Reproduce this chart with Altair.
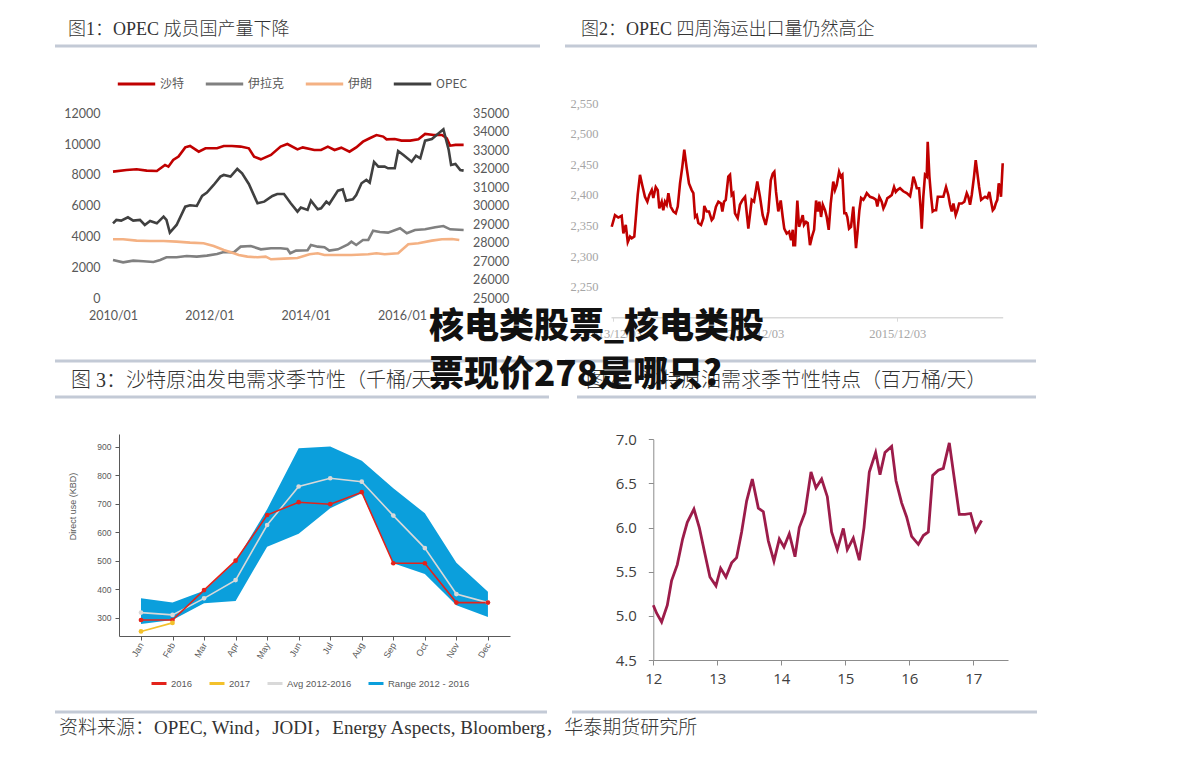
import altair as alt
import pandas as pd

W, H = 1175, 742


def gx(p):
    return p - 8


def gy(p):
    return p - 8


# ---------------- Panel 1: OPEC member production ----------------
p1_names = ["沙特", "伊拉克", "伊朗", "OPEC"]
p1_colors = ["#c00000", "#808080", "#f4b183", "#404040"]
saudi = [(2010.00, 8215), (2010.28, 8320), (2010.49, 8370), (2010.70, 8280), (2010.91, 8260),
         (2011.08, 8650), (2011.15, 8540), (2011.25, 8970), (2011.36, 9190), (2011.50, 9790),
         (2011.60, 9880), (2011.78, 9510), (2011.92, 9730), (2012.16, 9730), (2012.30, 9880),
         (2012.47, 9880), (2012.65, 9840), (2012.82, 9730), (2012.93, 9190), (2013.07, 9015),
         (2013.28, 9300), (2013.48, 9840), (2013.62, 10010), (2013.83, 9660), (2013.94, 9790),
         (2014.18, 9620), (2014.32, 9620), (2014.46, 9840), (2014.60, 9620), (2014.74, 9770),
         (2014.91, 9510), (2015.05, 9790), (2015.19, 10160), (2015.33, 10380), (2015.47, 10590),
         (2015.61, 10490), (2015.68, 10310), (2015.85, 10330), (2015.99, 10230), (2016.17, 10230),
         (2016.34, 10310), (2016.48, 10660), (2016.66, 10590), (2016.83, 10590), (2016.93, 10380),
         (2017.00, 9900), (2017.11, 9950), (2017.28, 9950)]
iraq = [(2010.00, 2486), (2010.21, 2335), (2010.42, 2443), (2010.63, 2400), (2010.84, 2357),
        (2010.98, 2486), (2011.11, 2660), (2011.32, 2660), (2011.53, 2746), (2011.74, 2703),
        (2011.95, 2767), (2012.16, 2875), (2012.30, 3005), (2012.51, 2983), (2012.65, 3351),
        (2012.86, 3394), (2013.07, 3178), (2013.28, 3243), (2013.48, 3243), (2013.62, 3200),
        (2013.68, 2919), (2013.80, 3092), (2014.04, 3113), (2014.11, 3459), (2014.25, 3351),
        (2014.39, 3308), (2014.49, 3092), (2014.67, 3178), (2014.88, 3502), (2014.95, 3675),
        (2015.05, 3459), (2015.19, 3784), (2015.30, 3784), (2015.40, 4389), (2015.54, 4302),
        (2015.71, 4259), (2015.96, 4540), (2016.10, 4216), (2016.27, 4432), (2016.48, 4475),
        (2016.69, 4605), (2016.86, 4691), (2017.00, 4475), (2017.28, 4432)]
iran = [(2010.00, 3827), (2010.21, 3827), (2010.49, 3740), (2010.77, 3719), (2011.05, 3719),
        (2011.32, 3675), (2011.60, 3611), (2011.88, 3567), (2012.09, 3394), (2012.30, 3135),
        (2012.51, 2919), (2012.61, 2811), (2012.79, 2703), (2013.00, 2660), (2013.17, 2703),
        (2013.28, 2530), (2013.55, 2573), (2013.83, 2616), (2014.08, 2854), (2014.25, 2919),
        (2014.39, 2811), (2014.60, 2811), (2014.95, 2811), (2015.30, 2854), (2015.47, 2919),
        (2015.64, 2854), (2015.92, 2919), (2016.13, 3502), (2016.34, 3567), (2016.62, 3740),
        (2016.83, 3827), (2017.04, 3848), (2017.19, 3784)]
opec = [(2010.00, 29054), (2010.07, 29234), (2010.17, 29198), (2010.31, 29378), (2010.42, 29198),
        (2010.56, 29234), (2010.66, 28964), (2010.77, 29180), (2010.91, 29054), (2011.05, 29414),
        (2011.11, 29234), (2011.18, 28550), (2011.32, 28964), (2011.50, 29955), (2011.60, 30027),
        (2011.74, 29991), (2011.85, 30532), (2011.95, 30712), (2012.09, 31126), (2012.23, 31577),
        (2012.30, 31667), (2012.44, 31577), (2012.58, 31991), (2012.68, 31757), (2012.82, 31180),
        (2013.00, 30135), (2013.14, 30225), (2013.31, 30532), (2013.41, 30640), (2013.55, 30640),
        (2013.69, 30135), (2013.83, 29685), (2013.90, 29901), (2014.04, 29775), (2014.11, 30279),
        (2014.25, 29811), (2014.32, 29865), (2014.43, 30225), (2014.49, 30099), (2014.67, 30820),
        (2014.77, 30892), (2014.84, 30279), (2014.98, 30351), (2015.05, 30586), (2015.16, 31216),
        (2015.26, 31396), (2015.33, 31252), (2015.42, 32369), (2015.51, 32117), (2015.64, 32117),
        (2015.71, 32027), (2015.85, 32027), (2015.92, 32964), (2016.03, 32748), (2016.20, 32387),
        (2016.29, 32712), (2016.38, 32568), (2016.48, 33523), (2016.62, 33613), (2016.86, 34135),
        (2016.97, 33019), (2017.02, 32207), (2017.11, 32261), (2017.21, 31937), (2017.28, 31901)]
p1_xticks = [2010, 2012, 2014, 2016]
p1_left_ticks = [0, 2000, 4000, 6000, 8000, 10000, 12000]
p1_right_ticks = [25000, 26000, 27000, 28000, 29000, 30000, 31000, 32000, 33000, 34000, 35000]

# ---------------- Panel 2: OPEC 4-week seaborne exports ----------------
exports = [(2013.911, 2348), (2013.934, 2367), (2013.957, 2363), (2013.981, 2366), (2013.993, 2337),
           (2014.010, 2351), (2014.024, 2323), (2014.040, 2332), (2014.052, 2329), (2014.070, 2332),
           (2014.094, 2400), (2014.110, 2433), (2014.126, 2416), (2014.145, 2397), (2014.162, 2389),
           (2014.176, 2400), (2014.193, 2408), (2014.204, 2395), (2014.221, 2413), (2014.235, 2408),
           (2014.246, 2378), (2014.263, 2389), (2014.274, 2375), (2014.286, 2389), (2014.298, 2384),
           (2014.310, 2403), (2014.326, 2381), (2014.345, 2373), (2014.362, 2370), (2014.376, 2381),
           (2014.392, 2419), (2014.408, 2446), (2014.422, 2474), (2014.439, 2444), (2014.455, 2419),
           (2014.474, 2408), (2014.486, 2403), (2014.498, 2364), (2014.510, 2367), (2014.521, 2354),
           (2014.540, 2351), (2014.556, 2362), (2014.563, 2382), (2014.580, 2373), (2014.596, 2373),
           (2014.615, 2359), (2014.626, 2362), (2014.645, 2381), (2014.662, 2389), (2014.681, 2386),
           (2014.690, 2373), (2014.702, 2389), (2014.714, 2392), (2014.732, 2430), (2014.744, 2433),
           (2014.756, 2400), (2014.767, 2403), (2014.779, 2370), (2014.798, 2362), (2014.814, 2384),
           (2014.832, 2392), (2014.850, 2397), (2014.873, 2345), (2014.897, 2392), (2014.913, 2389),
           (2014.936, 2422), (2014.955, 2397), (2014.974, 2367), (2014.995, 2351), (2015.014, 2373),
           (2015.031, 2424), (2015.045, 2435), (2015.056, 2438), (2015.068, 2405), (2015.084, 2373),
           (2015.101, 2391), (2015.115, 2364), (2015.126, 2345), (2015.143, 2337), (2015.160, 2340),
           (2015.174, 2326), (2015.186, 2343), (2015.190, 2318), (2015.202, 2318), (2015.218, 2391),
           (2015.230, 2348), (2015.242, 2356), (2015.256, 2367), (2015.265, 2351), (2015.279, 2356),
           (2015.291, 2354), (2015.307, 2318), (2015.324, 2334), (2015.336, 2343), (2015.350, 2391),
           (2015.362, 2373), (2015.373, 2389), (2015.385, 2364), (2015.397, 2384), (2015.413, 2375),
           (2015.425, 2364), (2015.439, 2343), (2015.453, 2386), (2015.471, 2422), (2015.483, 2408),
           (2015.495, 2416), (2015.512, 2438), (2015.524, 2430), (2015.535, 2433), (2015.549, 2370),
           (2015.561, 2370), (2015.570, 2364), (2015.582, 2345), (2015.596, 2348), (2015.612, 2381),
           (2015.631, 2313), (2015.641, 2337), (2015.655, 2375), (2015.667, 2395), (2015.683, 2392),
           (2015.695, 2397), (2015.707, 2403), (2015.730, 2397), (2015.753, 2395), (2015.772, 2392),
           (2015.781, 2381), (2015.795, 2397), (2015.812, 2389), (2015.824, 2378), (2015.836, 2384),
           (2015.852, 2395), (2015.866, 2397), (2015.883, 2400), (2015.899, 2413), (2015.911, 2405),
           (2015.922, 2408), (2015.941, 2411), (2015.964, 2406), (2015.988, 2403), (2016.012, 2398),
           (2016.024, 2413), (2016.035, 2430), (2016.047, 2422), (2016.059, 2411), (2016.075, 2411),
           (2016.087, 2375), (2016.094, 2345), (2016.105, 2397), (2016.117, 2433), (2016.129, 2430),
           (2016.136, 2487), (2016.148, 2430), (2016.160, 2397), (2016.171, 2373), (2016.183, 2375),
           (2016.195, 2375), (2016.207, 2397), (2016.223, 2397), (2016.246, 2397), (2016.265, 2413),
           (2016.281, 2400), (2016.293, 2384), (2016.305, 2373), (2016.317, 2386), (2016.333, 2367),
           (2016.345, 2375), (2016.357, 2386), (2016.376, 2386), (2016.394, 2389), (2016.411, 2403),
           (2016.422, 2397), (2016.434, 2384), (2016.446, 2400), (2016.462, 2430), (2016.474, 2457),
           (2016.486, 2435), (2016.498, 2413), (2016.512, 2392), (2016.528, 2395), (2016.540, 2397),
           (2016.556, 2395), (2016.570, 2405), (2016.580, 2392), (2016.594, 2375), (2016.605, 2378),
           (2016.615, 2386), (2016.626, 2392), (2016.636, 2419), (2016.645, 2411), (2016.652, 2397),
           (2016.664, 2452)]
p2_xticks = [2013.921, 2014.921, 2015.921]
p2_yticks = [2250, 2300, 2350, 2400, 2450, 2500, 2550]

# ---------------- Panel 3: Saudi crude burn seasonality ----------------
months = [1, 2, 3, 4, 5, 6, 7, 8, 9, 10, 11, 12]
month_names = ["Jan", "Feb", "Mar", "Apr", "May", "Jun", "Jul", "Aug", "Sep", "Oct", "Nov", "Dec"]
range_low = [278, 292, 351, 359, 549, 594, 684, 736, 491, 453, 344, 303]
range_high = [368, 353, 395, 497, 680, 894, 900, 850, 754, 666, 493, 391]
avg_1216 = [318, 310, 368, 432, 625, 760, 789, 777, 658, 544, 383, 353]
y2016 = [292, 292, 397, 500, 660, 705, 698, 740, 491, 491, 353, 353]
y2017 = [252, 282]
p3_names = ["2016", "2017", "Avg 2012-2016", "Range 2012 - 2016"]
p3_colors = ["#e3231b", "#f3c12b", "#d9d9d9", "#0b9fdc"]
p3_yticks = [300, 400, 500, 600, 700, 800, 900]

# ---------------- Panel 4: demand seasonality (mb/d) ----------------
demand = [(12.000, 5.12), (12.052, 5.03), (12.130, 4.93), (12.219, 5.12), (12.286, 5.40),
          (12.375, 5.58), (12.458, 5.87), (12.531, 6.06), (12.635, 6.21), (12.719, 6.00),
          (12.807, 5.70), (12.885, 5.44), (12.979, 5.34), (13.052, 5.54), (13.135, 5.44),
          (13.224, 5.60), (13.302, 5.66), (13.380, 5.95), (13.458, 6.30), (13.547, 6.55),
          (13.641, 6.22), (13.719, 6.18), (13.797, 5.85), (13.885, 5.62), (13.969, 5.87),
          (14.042, 5.78), (14.125, 5.93), (14.214, 5.67), (14.281, 6.00), (14.370, 6.17),
          (14.464, 6.63), (14.542, 6.45), (14.630, 6.55), (14.719, 6.35), (14.786, 5.95),
          (14.875, 5.75), (14.969, 5.99), (15.031, 5.75), (15.125, 5.88), (15.219, 5.63),
          (15.292, 6.00), (15.375, 6.63), (15.474, 6.85), (15.542, 6.60), (15.620, 6.85),
          (15.724, 6.92), (15.792, 6.53), (15.880, 6.28), (15.958, 6.12), (16.036, 5.90),
          (16.141, 5.81), (16.219, 5.91), (16.297, 5.95), (16.365, 6.59), (16.453, 6.65),
          (16.531, 6.67), (16.625, 6.96), (16.781, 6.15), (16.870, 6.15), (16.958, 6.16),
          (17.036, 5.96), (17.130, 6.08)]
p4_xticks = [12, 13, 14, 15, 16, 17]
p4_yticks = [4.5, 5.0, 5.5, 6.0, 6.5, 7.0]

# ---------------- Texts ----------------
title1 = "图1：OPEC 成员国产量下降"
title2 = "图2：OPEC 四周海运出口量仍然高企"
title3 = "图 3：沙特原油发电需求季节性（千桶/天）"
title4 = "图 4：沙特原油需求季节性特点（百万桶/天）"
source = "资料来源：OPEC, Wind，JODI，Energy Aspects, Bloomberg，华泰期货研究所"
overlay1 = "核电类股票_核电类股"
overlay2 = "票现价278是哪只?"

SERIF_CJK = "Liberation Serif, Noto Sans CJK SC"
LINE_COLOR = "#c3cad6"


def ax(orient, offset, **kw):
    base = dict(orient=orient, offset=offset, title=None, grid=False,
                labelFlush=False, labelOverlap=False, zindex=0)
    base.update(kw)
    return alt.Axis(**base)


def lin(domain, rng):
    return alt.Scale(domain=domain, range=rng, nice=False, zero=False)


# ---- Panel 1 chart ----
rows = []
for name, pts in zip(p1_names[:3], [saudi, iraq, iran]):
    rows += [{"s": name, "t": t, "v": v} for t, v in pts]
df1 = pd.DataFrame(rows)
df1b = pd.DataFrame([{"s": "OPEC", "t": t, "v": v} for t, v in opec])

p1_lab = dict(labelFont="Lato", labelFontSize=12.5, labelColor="#595959", domain=False, ticks=False, tickSize=0)
x1 = alt.X("t:Q", scale=lin([2010, 2017.3], [gx(113), gx(464.6)]),
           axis=ax("bottom", gy(298.3) - H, values=p1_xticks, labelExpr="datum.value + '/01'",
                   labelPadding=11, **p1_lab))
c1_scale = alt.Scale(domain=p1_names, range=p1_colors)
c1_legend = alt.Legend(orient="none", legendX=gx(116), legendY=gy(82) - 18.7, direction="horizontal",
                       title=None, symbolType="stroke", symbolStrokeWidth=3, symbolSize=1400,
                       labelFont="Noto Sans CJK SC", labelFontSize=12, labelColor="#595959",
                       columnPadding=14, labelOffset=3)
p1a = alt.Chart(df1).mark_line(strokeWidth=2.6).encode(
    x=x1,
    y=alt.Y("v:Q", scale=lin([0, 12000], [gy(298.3), gy(113.3)]),
            axis=ax("left", -gx(113), values=p1_left_ticks, format="d", labelPadding=13, **p1_lab)),
    color=alt.Color("s:N", scale=c1_scale, legend=c1_legend),
)
p1b = alt.Chart(df1b).mark_line(strokeWidth=2.6).encode(
    x=x1,
    y=alt.Y("v:Q", scale=lin([25000, 35000], [gy(298.3), gy(113.3)]),
            axis=ax("right", gx(464.6) - W, values=p1_right_ticks, format="d", labelPadding=8, **p1_lab)),
    color=alt.Color("s:N", scale=c1_scale, legend=None),
)
panel1 = alt.layer(p1a, p1b).resolve_scale(y="independent")

# ---- Panel 2 chart ----
df2 = pd.DataFrame(exports, columns=["t", "v"])
panel2 = alt.Chart(df2).mark_line(strokeWidth=2.6, color="#c00000").encode(
    x=alt.X("t:Q", scale=lin([2013.906, 2016.664], [gx(611), gx(1002.7)]),
            axis=ax("bottom", gy(317.2) - H, values=p2_xticks, labelExpr="floor(datum.value) + '/12/03'",
                    domainColor="#d9d9d9", domainWidth=1.5, tickColor="#d9d9d9", tickSize=4,
                    labelFont="Liberation Serif", labelFontSize=12.5, labelColor="#a6a6a6",
                    labelPadding=6)),
    y=alt.Y("v:Q", scale=lin([2200, 2550], [gy(317.2), gy(103.3)]),
            axis=ax("left", -gx(611), values=p2_yticks, format=",.0f", domain=False, ticks=False, tickSize=0,
                    labelFont="Liberation Serif", labelFontSize=12.5, labelColor="#a6a6a6",
                    labelPadding=13)),
)

# ---- Panel 3 chart ----
df3band = pd.DataFrame({"m": months, "lo": range_low, "hi": range_high})
lrows = [{"s": "Avg 2012-2016", "m": m, "v": v} for m, v in zip(months, avg_1216)]
lrows += [{"s": "2016", "m": m, "v": v} for m, v in zip(months, y2016)]
lrows += [{"s": "2017", "m": m, "v": v} for m, v in zip(months[:2], y2017)]
df3 = pd.DataFrame(lrows)

p3_axis_common = dict(domainColor="#595959", tickColor="#595959", tickSize=4,
                      labelFont="Liberation Sans", labelColor="#595959")
x3 = alt.X("m:Q", scale=lin([0.303, 12.70], [gx(119), gx(510)]),
           axis=ax("bottom", gy(636) - H, values=months,
                   labelExpr="['Jan','Feb','Mar','Apr','May','Jun','Jul','Aug','Sep','Oct','Nov','Dec'][datum.value - 1]",
                   labelAngle=300, labelAlign="right", labelBaseline="middle", labelFontSize=9,
                   labelPadding=3, **p3_axis_common))
y3_scale = lin([236, 944], [gy(636), gy(434)])
y3_axis = ax("left", -gx(119), values=p3_yticks, labelFontSize=8.5, labelPadding=4,
             title="Direct use (KBD)", titleFont="Liberation Sans", titleFontSize=9,
             titleFontWeight="normal", titleColor="#595959", titleAngle=270,
             titleX=72 - 119, titleY=gy(506), titleAlign="center", titleBaseline="middle",
             **p3_axis_common)
c3_scale = alt.Scale(domain=p3_names, range=p3_colors)
c3_legend = alt.Legend(orient="none", legendX=gx(150), legendY=gy(682) - 7.5, direction="horizontal",
                       title=None, symbolType="stroke", symbolStrokeWidth=3, symbolSize=225,
                       labelFont="Liberation Sans", labelFontSize=9.5, labelColor="#595959",
                       columnPadding=10, labelOffset=3)
band = alt.Chart(df3band).mark_area(color="#0b9fdc", opacity=1).encode(
    x=x3, y=alt.Y("lo:Q", scale=y3_scale, axis=y3_axis), y2="hi:Q")
lines3 = alt.Chart(df3).mark_line(strokeWidth=1.6, point=alt.OverlayMarkDef(size=22, filled=True)).encode(
    x=x3, y=alt.Y("v:Q", scale=y3_scale, axis=y3_axis),
    color=alt.Color("s:N", scale=c3_scale, legend=c3_legend),
    order=alt.Order("m:Q"),
)
panel3 = alt.layer(band, lines3)

# ---- Panel 4 chart ----
df4 = pd.DataFrame(demand, columns=["t", "v"])
p4_axis_common = dict(domainColor="#8c8c8c", tickColor="#8c8c8c", tickSize=5,
                      labelFont="Open Sans", labelFontSize=15, labelColor="#404040")
panel4 = alt.Chart(df4).mark_line(strokeWidth=2.8, color="#9c1c4a").encode(
    x=alt.X("t:Q", scale=lin([12, 17.542], [gx(653.3), gx(1008)]),
            axis=ax("bottom", gy(660) - H, values=p4_xticks, format="d", labelPadding=6, **p4_axis_common)),
    y=alt.Y("v:Q", scale=lin([4.5, 7.0], [gy(660), gy(439.3)]),
            axis=ax("left", -gx(653.3), values=p4_yticks, format=".1f", labelPadding=12, **p4_axis_common)),
)

# ---- decorations ----
one = pd.DataFrame({"k": [0]})


def hline(x1, x2, y):
    return alt.Chart(one).mark_rule(color=LINE_COLOR, strokeWidth=3).encode(
        x=alt.value(gx(x1)), x2=alt.value(gx(x2)), y=alt.value(gy(y)))


def text(txt, x, y, **kw):
    return alt.Chart(pd.DataFrame({"txt": [txt]})).mark_text(align="left", baseline="middle", **kw).encode(
        text="txt:N", x=alt.value(gx(x)), y=alt.value(gy(y)))


deco = [
    hline(55, 540, 46), hline(565, 1037, 46),
    hline(55, 549, 361), hline(565, 1036, 361),
    hline(55, 549, 397), hline(577, 1036, 397),
    hline(55, 547, 712), hline(572, 1037, 712),
    text(title1, 68, 30, font=SERIF_CJK, fontSize=18, color="#333333", fontWeight=300),
    text(title2, 581, 30, font=SERIF_CJK, fontSize=18, color="#333333", fontWeight=300),
    text(title3, 71, 381, font=SERIF_CJK, fontSize=20, color="#333333", fontWeight=300),
    text(title4, 586, 381, font=SERIF_CJK, fontSize=20, color="#333333", fontWeight=300),
    text(source, 59, 728, font=SERIF_CJK, fontSize=19, color="#333333", fontWeight=300),
]
overlay = [
    text(overlay1, 429, 327, font="Noto Sans CJK SC", fontSize=35, fontWeight=900, color="#111111"),
    text(overlay2, 429, 375, font="Noto Sans CJK SC", fontSize=35, fontWeight=900, color="#111111"),
]

chart = alt.layer(panel1, panel2, panel3, panel4, *deco, *overlay).resolve_scale(
    x="independent", y="independent", color="independent"
).resolve_axis(x="independent", y="independent").resolve_legend(color="independent").properties(
    width=W, height=H, autosize=alt.AutoSizeParams(type="none"), padding=0
).configure(background="white").configure_view(stroke=None)

chart.save("out.html", embed_options={"renderer": "svg", "actions": False})
